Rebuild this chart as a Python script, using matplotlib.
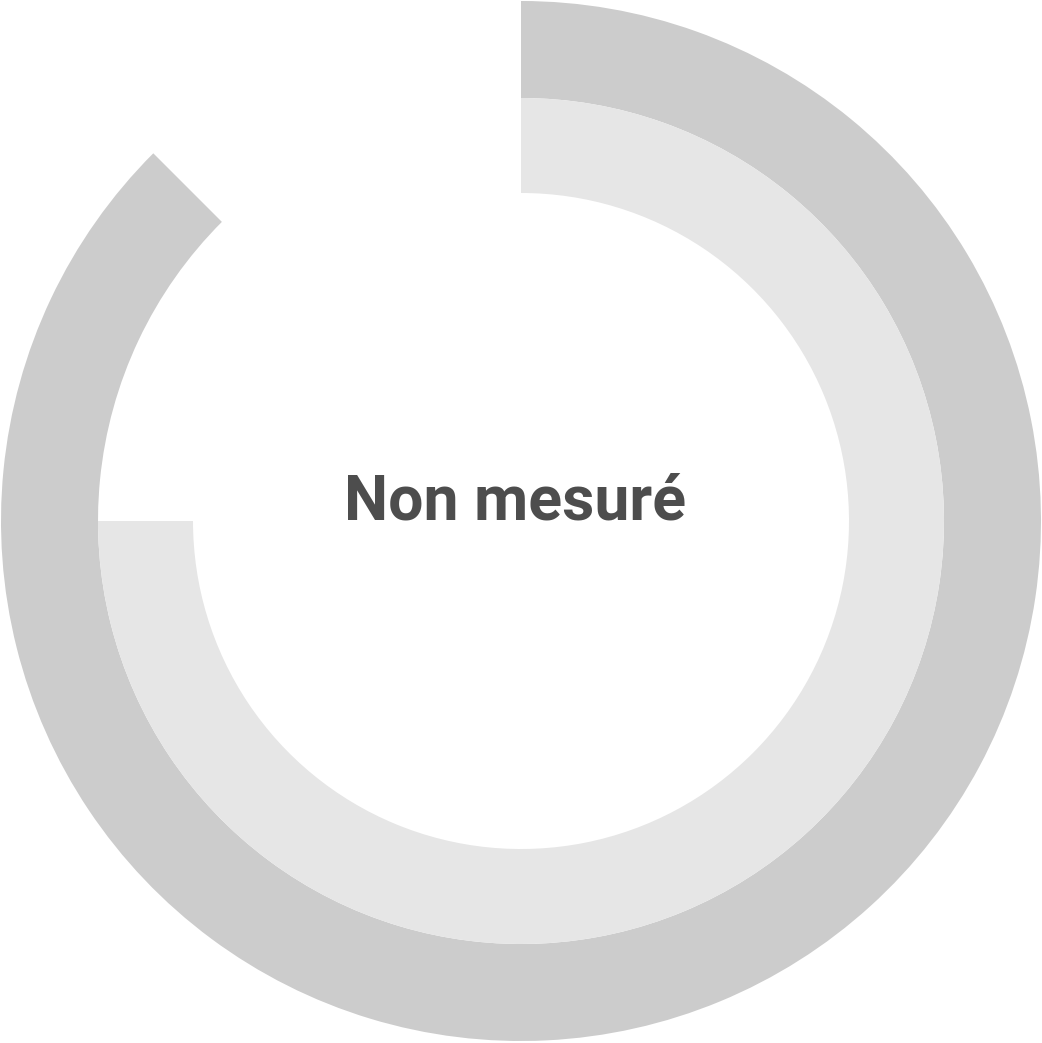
import matplotlib.pyplot as plt
from matplotlib.patches import Wedge

# ring values (percent of full circle), outer to inner
ring_names = ["outer", "inner"]
ring_values = [87.5, 75.0]
ring_colors = ["#cccccc", "#e6e6e6"]
center_label = "Non mesuré"

# radii in pixels
ring_outer = [520, 423]
ring_width = [97, 95]

fig = plt.figure(figsize=(10.42, 10.43), dpi=100)
ax = fig.add_axes([0, 0, 1, 1])
ax.set_xlim(-521, 521)
ax.set_ylim(-522, 521)
ax.set_aspect("equal")
ax.axis("off")

for val, col, r, w in zip(ring_values, ring_colors, ring_outer, ring_width):
    # start at 12 o'clock, go clockwise
    ax.add_patch(Wedge((0, 0), r, 90 - 360 * val / 100, 90, width=w,
                       facecolor=col, edgecolor="none"))

ax.text(-6, 2, center_label, ha="center", va="baseline", fontsize=45,
        fontweight="bold", family=["Roboto", "DejaVu Sans"], color="#4d4d4d")

fig.savefig("out.png", dpi=100)
